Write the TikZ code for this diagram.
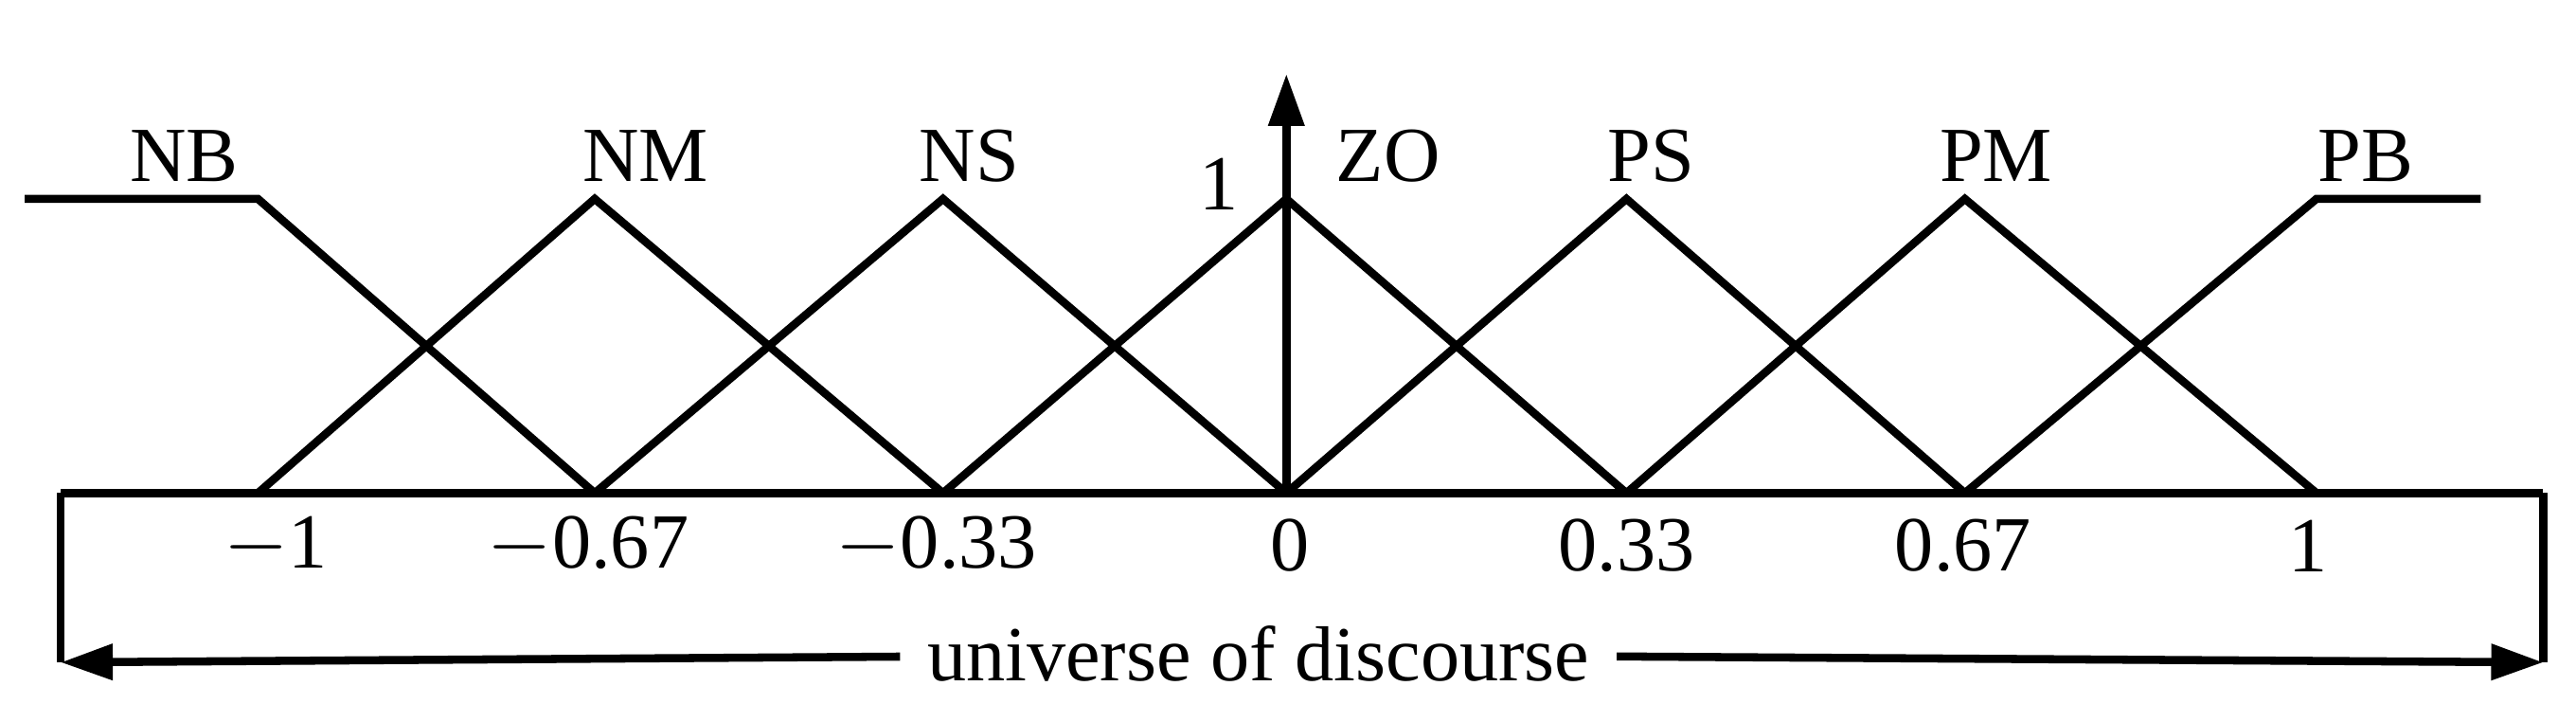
\documentclass[tikz,border=0pt]{standalone}
\usepackage{fontspec}
\setmainfont{Liberation Serif}
\usetikzlibrary{arrows.meta}
\begin{document}
\begin{tikzpicture}[x=1cm,y=1cm,line width=1.4pt,
  lbl/.style={font=\fontsize{13.5}{15}\selectfont,inner sep=1pt}]
\useasboundingbox (0,0) rectangle (15.68,-4.28);
% Coordinates of the peaks and feet
\coordinate (ln) at (0.15,-1.21);
\coordinate (rn) at (15.10,-1.21);
\foreach \n/\x in {a/1.57,b/3.62,c/5.74,d/7.83,e/9.90,f/11.96,g/14.10}{
  \coordinate (\n t) at (\x,-1.21);
  \coordinate (\n b) at (\x,-3.00);
}
% Membership functions
\draw (ln) -- (at) -- (bb);
\draw (ab) -- (bt) -- (cb);
\draw (bb) -- (ct) -- (db);
\draw (cb) -- (dt) -- (eb);
\draw (db) -- (et) -- (fb);
\draw (eb) -- (ft) -- (gb);
\draw (fb) -- (gt) -- (rn);
% Axes
\coordinate (xl) at (0.37,-3.00);
\coordinate (xr) at (15.48,-3.00);
\coordinate (ul) at (0.37,-4.03);
\coordinate (ur) at (15.48,-4.03);
\coordinate (top) at (7.83,-0.45);
\draw (xl) -- (xr);
\draw (xl) -- (ul);
\draw (xr) -- (ur);
\draw[-{Triangle[length=9pt,width=6pt]}] (db) -- (top);
% Labels
\node[lbl] (nb) at (1.12,-0.95) {NB};
\node[lbl] (nm) at (3.93,-0.95) {NM};
\node[lbl] (ns) at (5.90,-0.95) {NS};
\node[lbl] (zo) at (8.45,-0.95) {ZO};
\node[lbl] (ps) at (10.05,-0.95) {PS};
\node[lbl] (pm) at (12.15,-0.95) {PM};
\node[lbl] (pb) at (14.40,-0.95) {PB};
\node[lbl] (one) at (7.42,-1.12) {1};
\node[lbl] (t1) at (1.68,-3.32) {$-$1};
\node[lbl] (t2) at (3.58,-3.32) {$-$0.67};
\node[lbl] (t3) at (5.70,-3.32) {$-$0.33};
\node[lbl] (t4) at (7.85,-3.32) {0};
\node[lbl] (t5) at (9.90,-3.32) {0.33};
\node[lbl] (t6) at (11.95,-3.32) {0.67};
\node[lbl] (t7) at (14.05,-3.32) {1};
\node[lbl,fill=white,inner sep=4pt] (uod) at (7.66,-3.98) {universe of discourse};
\draw[-{Triangle[length=9pt,width=6pt]}] (uod) -- (ul);
\draw[-{Triangle[length=9pt,width=6pt]}] (uod) -- (ur);
\end{tikzpicture}
\end{document}
